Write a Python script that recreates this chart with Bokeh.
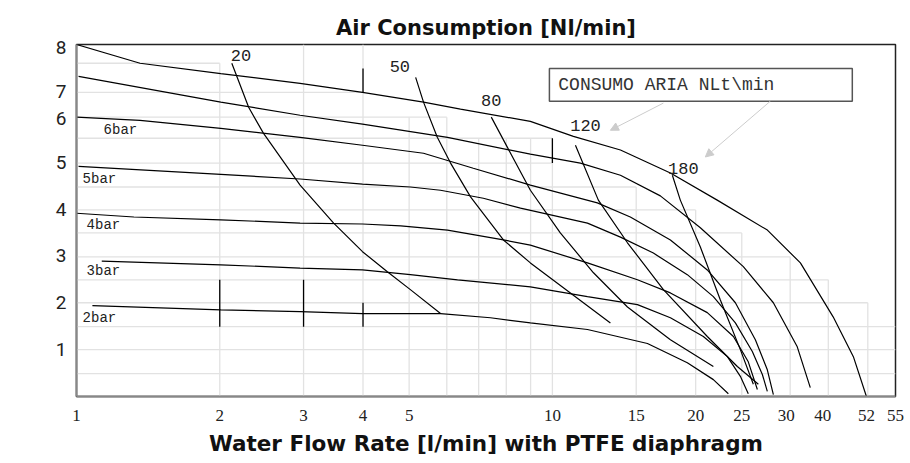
import math
from bokeh.plotting import figure
from bokeh.models import Range1d, FixedTicker, Arrow, NormalHead, Label
from bokeh.core.properties import value
from bokeh.embed import file_html
from bokeh.resources import INLINE

# ---------------- data ----------------
# pressure curves: water flow [l/min] (chart log scale) vs pressure position
p8_x = [1.0, 1.36, 2.01, 2.95, 3.99, 5.36, 6.41, 8.99, 11.07, 13.9, 17.7, 22.2, 28.3, 33.2, 38.9, 42.9, 45.7]
p8_y = [7.51, 7.11, 6.89, 6.68, 6.49, 6.28, 6.13, 5.87, 5.55, 5.26, 4.77, 4.19, 3.55, 2.85, 1.70, 0.85, 0.0]
p7_x = [1.01, 2.01, 2.95, 3.99, 6.02, 8.99, 11.45, 13.9, 16.86, 20.46, 25.19, 29.13, 32.7, 34.83]
p7_y = [6.83, 6.28, 6.0, 5.81, 5.53, 5.17, 4.98, 4.72, 4.28, 3.60, 2.77, 2.0, 1.06, 0.19]
p6_x = [1.0, 1.36, 2.01, 2.95, 3.99, 5.36, 6.82, 8.99, 12.43, 14.58, 17.7, 21.16, 24.24, 26.7, 28.29, 29.13]
p6_y = [5.96, 5.89, 5.72, 5.53, 5.36, 5.19, 4.87, 4.51, 4.13, 3.83, 3.34, 2.70, 2.0, 1.21, 0.57, 0.04]
p5_x = [1.01, 2.01, 2.95, 3.99, 5.03, 5.82, 7.16, 8.57, 11.85, 13.9, 16.3, 19.21, 21.79, 24.24, 26.31, 27.62, 28.29]
p5_y = [4.91, 4.74, 4.64, 4.53, 4.47, 4.40, 4.23, 4.02, 3.70, 3.40, 3.06, 2.60, 2.13, 1.57, 0.96, 0.47, 0.11]
p4_x = [1.0, 1.32, 2.01, 2.95, 3.99, 4.8, 6.02, 7.89, 8.99, 11.85, 15.09, 17.7, 21.16, 24.01, 25.8, 26.96]
p4_y = [3.91, 3.83, 3.77, 3.70, 3.68, 3.64, 3.55, 3.34, 3.23, 2.85, 2.49, 2.21, 1.79, 1.28, 0.74, 0.15]
p3_x = [1.13, 2.01, 2.95, 3.99, 5.03, 6.32, 8.99, 11.85, 15.09, 17.7, 20.76, 23.32, 24.83, 25.8]
p3_y = [2.89, 2.81, 2.74, 2.70, 2.60, 2.49, 2.34, 2.13, 1.96, 1.68, 1.28, 0.85, 0.43, 0.06]
p2_x = [1.08, 2.01, 2.95, 3.99, 5.82, 7.41, 8.99, 11.85, 15.84, 19.21, 21.79, 23.43]
p2_y = [1.94, 1.85, 1.81, 1.77, 1.77, 1.68, 1.57, 1.43, 1.13, 0.72, 0.36, 0.06]

# air consumption curves [Nl/min]
a20_x = [2.12, 2.30, 2.47, 2.95, 3.47, 3.99, 4.50, 5.03, 5.82]
a20_y = [7.11, 6.17, 5.62, 4.51, 3.70, 3.09, 2.66, 2.28, 1.77]
a50_x = [5.16, 5.36, 5.73, 6.11, 6.73, 7.06, 7.89, 8.99, 10.91, 13.24]
a50_y = [6.81, 6.28, 5.53, 4.98, 4.26, 3.98, 3.34, 2.85, 2.21, 1.57]
a80_x = [7.44, 8.04, 8.99, 10.39, 12.2, 14.38, 17.7, 21.79]
a80_y = [5.96, 5.32, 4.40, 3.49, 2.64, 1.91, 1.21, 0.64]
a120_x = [11.18, 12.49, 14.38, 17.11, 21.16, 24.47, 27.09]
a120_y = [5.36, 4.19, 3.28, 2.28, 1.28, 0.64, 0.26]
a180_x = [17.87, 18.57, 20.46, 22.54, 24.83, 26.44]
a180_y = [4.72, 4.19, 3.19, 2.06, 1.0, 0.26]

bar_labels = ["6bar", "5bar", "4bar", "3bar", "2bar"]
bar_label_x = [1.14, 1.03, 1.05, 1.05, 1.03]
bar_label_y = [5.68, 4.64, 3.66, 2.68, 1.68]

air_labels = ["20", "50", "80", "120", "180"]
air_label_x = [2.11, 4.55, 7.08, 10.9, 17.5]
air_label_y = [7.28, 7.04, 6.32, 5.79, 4.87]

# short vertical marks
mark_x = [4, 10, 2, 3, 4]
mark_y0 = [7.0, 5.51, 2.49, 2.49, 2.0]
mark_y1 = [6.49, 4.98, 1.49, 1.49, 1.49]

# stepped light grid
grid_vx = [2, 3, 4, 5, 6, 7, 8, 9, 10, 15, 20, 25, 31.6, 38, 46]
grid_vtop = [7.11, 7.51, 7.51, 5.96, 5.96, 5.51, 5.51, 5.51, 5.51, 4.47, 3.98, 3.49, 2.98, 2.49, 2.0]
grid_hy = [7.11, 6.49, 5.96, 5.51, 4.98, 4.47, 3.98, 3.49, 2.98, 2.49, 2.0, 1.49, 1.0, 0.49]
grid_hend = [2, 4, 6, 10, 10, 15, 20, 25, 31.6, 38, 46, 52.6, 52.6, 52.6]

x_tick_pos = [1, 2, 3, 4, 5, 10, 15, 20, 25, 31, 37, 45.7, 52.6]
x_tick_labels = ["1", "2", "3", "4", "5", "10", "15", "20", "25", "30", "40", "52", "55"]
y_tick_pos = [1, 2, 3, 4, 5, 5.93, 6.5, 7.45]
y_tick_labels = ["1", "2", "3", "4", "5", "6", "7", "8"]

# ---------------- figure ----------------
p = figure(width=905, height=458, x_axis_type="log",
           x_range=Range1d(1, 52.6), y_range=Range1d(0, 7.51),
           output_backend="svg", toolbar_location=None,
           min_border_left=76, min_border_right=10, min_border_top=44, min_border_bottom=61)

p.title.text = "Air Consumption [Nl/min]"
p.title.align = "center"
p.title.text_font = "DejaVu Sans"
p.title.text_font_style = "bold"
p.title.text_font_size = "21px"
p.title.text_color = "#111"
p.title.standoff = 10

p.xgrid.visible = False
p.ygrid.visible = False
p.outline_line_color = "#222"
p.outline_line_width = 1.5

grid_col = "#e2e2e2"
p.segment(x0=grid_vx, y0=[0] * len(grid_vx), x1=grid_vx, y1=grid_vtop,
          line_color=grid_col, line_width=1.3)
p.segment(x0=[1] * len(grid_hy), y0=grid_hy, x1=grid_hend, y1=grid_hy,
          line_color=grid_col, line_width=1.3)

for xs, ys in [(p8_x, p8_y), (p7_x, p7_y), (p6_x, p6_y), (p5_x, p5_y),
               (p4_x, p4_y), (p3_x, p3_y), (p2_x, p2_y),
               (a20_x, a20_y), (a50_x, a50_y), (a80_x, a80_y),
               (a120_x, a120_y), (a180_x, a180_y)]:
    p.line(xs, ys, line_color="black", line_width=1.2)

p.segment(x0=mark_x, y0=mark_y0, x1=mark_x, y1=mark_y1, line_color="black", line_width=1.3)

p.text(x=bar_label_x, y=bar_label_y, text=bar_labels, text_font=value("Liberation Mono"),
       text_font_size="14px", text_baseline="middle", text_align="left", text_color="#222")
p.text(x=air_label_x, y=air_label_y, text=air_labels, text_font=value("Liberation Mono"),
       text_font_size="17px", text_baseline="middle", text_align="left", text_color="#222")

# legend box with arrows
p.quad(left=[9.857], right=[42.68], top=[7.0], bottom=[6.30],
       fill_color="white", line_color="#555", line_width=1.5)
p.text(x=[10.29], y=[6.64], text=["CONSUMO ARIA NLt\\min"], text_font=value("Liberation Mono"),
       text_font_size="18px", text_baseline="middle", text_align="left", text_color="#333")
for xs, ys, xe, ye in [(17.11, 6.26, 13.24, 5.68), (28.7, 6.30, 20.96, 5.11)]:
    p.add_layout(Arrow(end=NormalHead(size=8, fill_color="#cccccc", line_color="#cccccc"),
                       x_start=xs, y_start=ys, x_end=xe, y_end=ye,
                       line_color="#cccccc", line_width=1))

# axes
p.xaxis.ticker = FixedTicker(ticks=x_tick_pos)
p.xaxis.major_label_overrides = dict(zip(x_tick_pos, x_tick_labels))
p.yaxis.ticker = FixedTicker(ticks=y_tick_pos)
p.yaxis.major_label_overrides = dict(zip(y_tick_pos, y_tick_labels))
for ax in (p.xaxis, p.yaxis):
    ax.major_tick_line_color = None
    ax.minor_tick_line_color = None
    ax.axis_line_color = "#888"
    ax.axis_line_width = 2
    ax.major_label_text_color = "#222"
p.xaxis.major_label_text_font = "Liberation Serif"
p.xaxis.major_label_text_font_size = "17px"
p.xaxis.major_label_standoff = 7
p.yaxis.major_label_text_font = "Roboto"
p.yaxis.major_label_text_font_size = "19px"
p.yaxis.major_label_standoff = 4

p.xaxis.axis_label = "Water Flow Rate [l/min] with PTFE diaphragm"
p.xaxis.axis_label_text_font = "DejaVu Sans"
p.xaxis.axis_label_text_font_style = "bold"
p.xaxis.axis_label_text_font_size = "21.5px"
p.xaxis.axis_label_text_color = "#111"
p.xaxis.axis_label_standoff = 7

p.add_layout(Label(x=0.781, y=3.17, text="Prevalence [bar]", angle=math.pi / 2,
                   text_align="center", text_baseline="middle", text_font="DejaVu Sans",
                   text_font_style="bold", text_font_size="21px", text_color="#111"))

open("out.html", "w").write(file_html(p, INLINE))
